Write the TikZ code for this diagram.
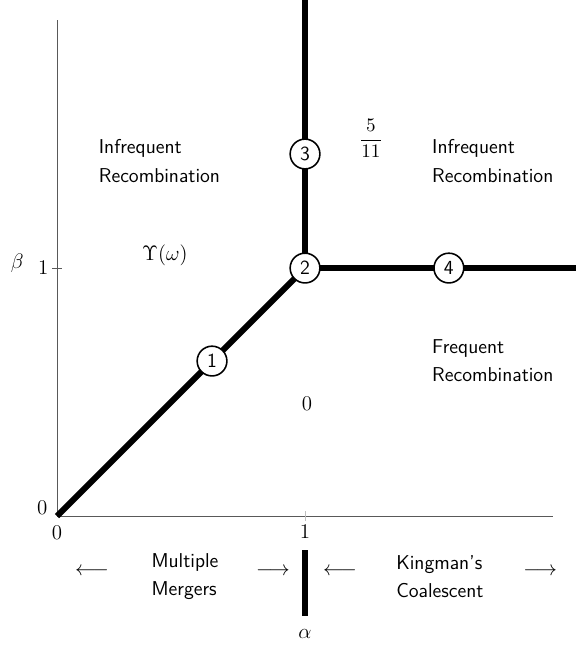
\documentclass[tikz,border=0pt]{standalone}
\usetikzlibrary{positioning}
\begin{document}
\begin{tikzpicture}[x=5cm,y=5cm,
    every node/.style={font=\fontsize{11.5}{16.5}\selectfont\sffamily},
    phase/.style={line width=3.4pt},
    axis/.style={gray!70!black, line width=0.6pt},
    state/.style={circle, draw, fill=white, line width=0.9pt, minimum size=0.6cm, inner sep=0pt},
    region/.style={align=left, anchor=west}]
    \useasboundingbox (-0.23,-0.524) rectangle (2.093,2.081);

    % Оси
    \coordinate (O) at (0,0);
    \coordinate (ytop) at (0,2.0);
    \coordinate (xend) at (2,0);
    \draw[axis] (ytop) -- (O) -- (xend);
    \draw[axis] (-0.02,1) -- (0.02,1);
    \draw[axis, gray!50] (1,-0.02) -- (1,0.02);
    \node (y0) at (-0.06,0.032) {$0$};
    \node (y1) at (-0.056,1) {$1$};
    \node (beta) at (-0.161,1.02) {\large$\beta$};
    \node (x0) at (0,-0.069) {$0$};
    \node (x1) at (1,-0.065) {$1$};

    % Границы фаз
    \coordinate (P) at (1,1);
    \coordinate (top) at (1,2.081);
    \coordinate (right) at (2.093,1);
    \draw[phase] (O) -- (P) -- (top);
    \draw[phase] (P) -- (right);

    % Точки на границах
    \node[state] (s1) at (0.625,0.625) {1};
    \node[state] (s2) at (P) {2};
    \node[state] (s3) at (1,1.46) {3};
    \node[state] (s4) at (1.58,1) {4};

    % Области
    \node[region] (infl) at (0.144,1.433) {Infrequent\\Recombination};
    \node[region] (infr) at (1.488,1.433) {Infrequent\\Recombination};
    \node[region] (freq) at (1.488,0.627) {Frequent\\Recombination};
    \node (ups) at (0.435,1.05) {\large$\Upsilon(\omega)$};
    \node[font=\fontsize{10.5}{12}\selectfont] (frac) at (1.266,1.522) {$\displaystyle\frac{5}{11}$};
    \node (zero) at (1.008,0.452) {\large$0$};

    % Подпись оси x
    \coordinate (bartop) at (1,-0.137);
    \coordinate (barbot) at (1,-0.403);
    \draw[phase] (bartop) -- (barbot);
    \node (la1) at (0.141,-0.226) {\large$\longleftarrow$};
    \node[align=left] (mm) at (0.516,-0.244) {Multiple\\Mergers};
    \node (ra1) at (0.871,-0.226) {\large$\longrightarrow$};
    \node (la2) at (1.141,-0.226) {\large$\longleftarrow$};
    \node[align=left] (kc) at (1.544,-0.244) {Kingman's\\Coalescent};
    \node (ra2) at (1.948,-0.226) {\large$\longrightarrow$};
    \node (alpha) at (1,-0.476) {\large$\alpha$};
\end{tikzpicture}
\end{document}
